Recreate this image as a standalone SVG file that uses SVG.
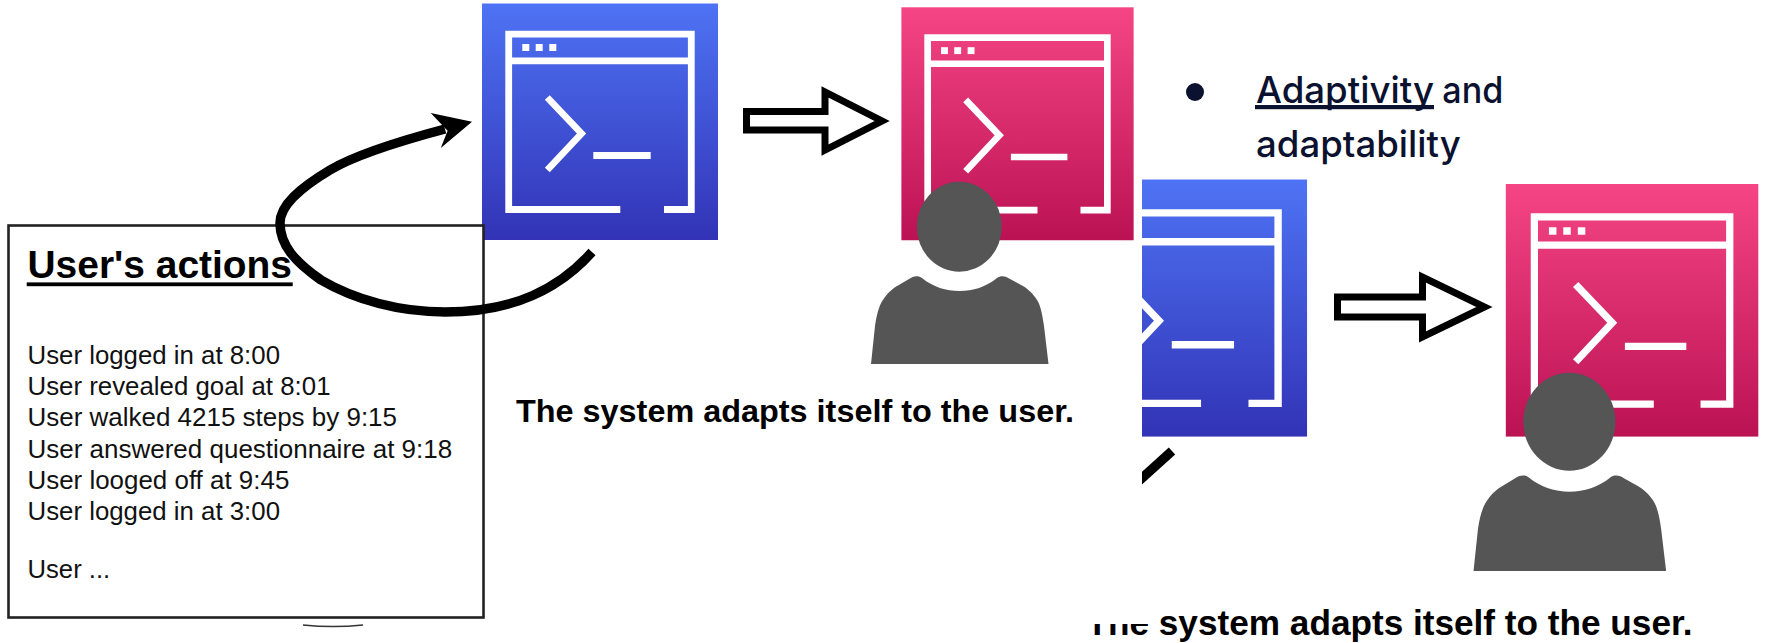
<svg xmlns="http://www.w3.org/2000/svg" width="1767" height="643" viewBox="0 0 1767 643">
<style>
.frame{fill:none;stroke:#fff;stroke-width:6.8}
.dot{fill:#fff}
.person{fill:#555}
.hollow{fill:#fff;stroke:#000;stroke-width:7;stroke-miterlimit:8}
.curve{fill:none;stroke:#000;stroke-width:9.5}
.sans{font-family:"Liberation Sans",Arial,sans-serif;fill:#111}
.bold{font-weight:700;fill:#000}
.body{font-size:25.5px}
.bullet{font-family:Inter,"Noto Sans",sans-serif;font-size:37px;font-weight:500;fill:#0a1230}
</style>
<defs>
<linearGradient id="blue" x1="0" y1="0" x2="0" y2="1"><stop offset="0" stop-color="#4e73f4"/><stop offset="1" stop-color="#3233b6"/></linearGradient>
<linearGradient id="pink" x1="0" y1="0" x2="0" y2="1"><stop offset="0" stop-color="#f54584"/><stop offset="1" stop-color="#bb1254"/></linearGradient>
<rect id="tile" width="236" height="236.5"/>
<g id="window">
<path class="frame" d="M138.3 206H26.7V30.7H209.3V206H182"/>
<path class="frame" d="M26.7 57.3H209.3"/>
<path class="frame" d="M65.3 94L99.5 130L65.3 166.5"/>
<path class="frame" d="M111.3 152H168.7"/>
<rect class="dot" x="40.3" y="40.5" width="7" height="7"/>
<rect class="dot" x="53.7" y="40.5" width="7" height="7"/>
<rect class="dot" x="67.3" y="40.5" width="7" height="7"/>
</g>
<g id="user">
<ellipse class="person" cx="959.3" cy="226.7" rx="42.5" ry="45"/>
<path class="person" d="M871 364L875 326C877 312 880 303 885 297C888 293 893 288 898 285.5L909 279C913 276 918 275 922 278C933 287 946 291 959.5 291C973 291 986 287 997 278C1001 275 1006 276 1010 279L1022 285.5C1027 288 1032 293 1035 297C1040 303 1042 312 1044 326L1048.5 364Z"/>
</g>
<clipPath id="cut"><rect x="1142" y="170" width="200" height="320"/></clipPath>
</defs>
<rect width="1767" height="643" fill="#fff"/>
<g id="system-blue-1" transform="translate(482,3.5)"><use href="#tile" fill="url(#blue)"/><use href="#window"/></g>
<g id="system-pink-1"><g transform="translate(901.4,7.3) scale(0.984,0.985)"><use href="#tile" fill="url(#pink)"/><use href="#window"/></g></g>
<g id="user-1"><use href="#user"/></g>
<g id="actions-box">
<rect x="8.5" y="225.5" width="475" height="392" fill="#fff" stroke="#222" stroke-width="2.6"/>
<text class="sans bold" x="27.5" y="277.7" font-size="39" textLength="264.5" lengthAdjust="spacingAndGlyphs">User's actions</text>
<rect x="26.7" y="282.4" width="266" height="3.8" fill="#000"/>
<text class="sans body" x="27.5" y="363.5" textLength="252.5" lengthAdjust="spacingAndGlyphs">User logged in at 8:00</text>
<text class="sans body" x="27.5" y="395.2" textLength="303" lengthAdjust="spacingAndGlyphs">User revealed goal at 8:01</text>
<text class="sans body" x="27.5" y="426.2" textLength="369.5" lengthAdjust="spacingAndGlyphs">User walked 4215 steps by 9:15</text>
<text class="sans body" x="27.5" y="457.5" textLength="424.7" lengthAdjust="spacingAndGlyphs">User answered questionnaire at 9:18</text>
<text class="sans body" x="27.5" y="488.5" textLength="261.8" lengthAdjust="spacingAndGlyphs">User looged off at 9:45</text>
<text class="sans body" x="27.5" y="519.9" textLength="252.5" lengthAdjust="spacingAndGlyphs">User logged in at 3:00</text>
<text class="sans body" x="27.5" y="577.5" textLength="82.7" lengthAdjust="spacingAndGlyphs">User ...</text>
</g>
<g id="caption-1"><text class="sans bold" x="516" y="422" font-size="31.5" textLength="558" lengthAdjust="spacingAndGlyphs">The system adapts itself to the user.</text></g>
<g id="bullet">
<ellipse cx="1195" cy="92" rx="9" ry="9" fill="#0a1230"/>
<text class="bullet" x="1256" y="102.7" textLength="178" lengthAdjust="spacingAndGlyphs">Adaptivity</text>
<rect x="1255" y="105" width="179" height="4.2" fill="#0a1230"/>
<text class="bullet" x="1442.3" y="102.7" textLength="61" lengthAdjust="spacingAndGlyphs">and</text>
<text class="bullet" x="1256" y="157.3" textLength="204.7" lengthAdjust="spacingAndGlyphs">adaptability</text>
</g>
<g id="system-blue-2" clip-path="url(#cut)"><g transform="translate(1051,179.5) scale(1.085,1.087)"><use href="#tile" fill="url(#blue)"/><use href="#window"/></g></g>
<g id="system-pink-2"><g transform="translate(1505.8,184) scale(1.07,1.068)"><use href="#tile" fill="url(#pink)"/><use href="#window"/></g></g>
<g id="user-2"><use href="#user" transform="translate(528.5,175.2) scale(1.085,1.0875)"/></g>
<g id="caption-2">
<text class="sans bold" x="1086.5" y="635" font-size="35" textLength="606" lengthAdjust="spacingAndGlyphs">The system adapts itself to the user.</text>
<rect x="1075" y="595" width="75" height="29" fill="#fff"/>
</g>
<g id="connectors">
<path class="curve" d="M592 252C560 288 515 312 445 312C400 312 355 300 321 280C295 262 280 245 280 223C280 205 300 188 330 170C350 158 385 145 445 129"/>
<path d="M472 121.7L430.7 113L447.6 130.7L440.8 148Z" fill="#000"/>
<path class="hollow" d="M746.5 111.5H825V92L882 121L825 150V130H746.5Z"/>
<path class="hollow" d="M1337.5 297H1422.5V277L1484.5 307L1422.5 337V317H1337.5Z"/>
<path class="curve" d="M1172 451L1130 489" clip-path="url(#cut)"/>
<path d="M303 625Q333 628 363 625" fill="none" stroke="#333" stroke-width="1.5"/>
</g>
</svg>
